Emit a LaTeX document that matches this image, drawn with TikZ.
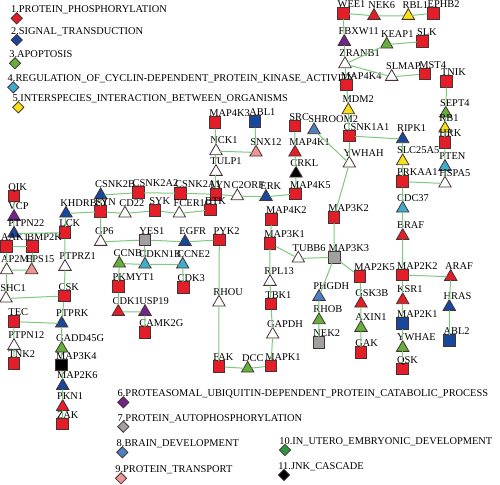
\documentclass[tikz,border=0pt]{standalone}
\usepackage{fontspec}
\setmainfont{Liberation Serif}
\usepackage{tikz}
\usetikzlibrary{shapes.geometric}
\definecolor{gored}{RGB}{228,30,40}
\definecolor{goblue}{RGB}{22,72,158}
\definecolor{gogreen}{RGB}{100,176,60}
\definecolor{gocyan}{RGB}{64,172,204}
\definecolor{goyellow}{RGB}{246,226,20}
\definecolor{gopurple}{RGB}{112,36,140}
\definecolor{gogray}{RGB}{160,160,160}
\definecolor{gosteel}{RGB}{76,128,196}
\definecolor{gopink}{RGB}{238,150,150}
\definecolor{godkgreen}{RGB}{44,150,64}
\definecolor{edgegreen}{RGB}{125,200,125}
\definecolor{rim}{RGB}{70,50,50}

\begin{document}
\begin{tikzpicture}[x=0.5pt,y=-0.5pt,font=\fontsize{5.2}{6}\selectfont,
  lbl/.style={anchor=base west,inner sep=0pt,xshift=-3pt},
  sq/.style={rectangle,draw=rim,line width=0.4pt,minimum size=5.9pt,inner sep=0pt,outer sep=0pt,fill=#1},
  tri/.style={regular polygon,regular polygon sides=3,draw=rim,line width=0.4pt,minimum size=7.2pt,inner sep=0pt,outer sep=0pt,yshift=-0.9pt,fill=#1},
  dia/.style={diamond,aspect=1,draw=rim,line width=0.4pt,minimum size=5.6pt,inner sep=0pt,outer sep=0pt,fill=#1},
  link/.style={draw=edgegreen,line width=0.5pt}]
\useasboundingbox (0,0) rectangle (500,485);

% legend
\node[dia=gored] (g1) at (16.7,18.3) [label={[lbl]90:1.PROTEIN\_PHOSPHORYLATION}] {};
\node[dia=goblue] (g2) at (16.7,40) [label={[lbl]90:2.SIGNAL\_TRANSDUCTION}] {};
\node[dia=gogreen] (g3) at (15,63.3) [label={[lbl]90:3.APOPTOSIS}] {};
\node[dia=gocyan] (g4) at (13.3,87.3) [label={[lbl]90:4.REGULATION\_OF\_CYCLIN-DEPENDENT\_PROTEIN\_KINASE\_ACTIVITY}] {};
\node[dia=goyellow] (g5) at (18.3,107.3) [label={[lbl]90:5.INTERSPECIES\_INTERACTION\_BETWEEN\_ORGANISMS}] {};
\node[dia=gopurple] (g6) at (123.3,402.3) [label={[lbl]90:6.PROTEASOMAL\_UBIQUITIN-DEPENDENT\_PROTEIN\_CATABOLIC\_PROCESS}] {};
\node[dia=gogray] (g7) at (123.3,426.7) [label={[lbl]90:7.PROTEIN\_AUTOPHOSPHORYLATION}] {};
\node[dia=gosteel] (g8) at (122.3,452.3) [label={[lbl]90:8.BRAIN\_DEVELOPMENT}] {};
\node[dia=gopink] (g9) at (121,478.3) [label={[lbl]90:9.PROTEIN\_TRANSPORT}] {};
\node[dia=godkgreen] (g10) at (285,450) [label={[lbl]90:10.IN\_UTERO\_EMBRYONIC\_DEVELOPMENT}] {};
\node[dia=black] (g11) at (284,475) [label={[lbl]90:11.JNK\_CASCADE}] {};

% top right cluster
\node[sq=gored] (wee1) at (343.3,13.3) [label={[lbl]90:WEE1}] {};
\node[tri=gored] (nek6) at (374,14) [label={[lbl]90:NEK6}] {};
\node[tri=goyellow] (rbl1) at (408.3,14) [label={[lbl]90:RBL1}] {};
\node[sq=gored] (ephb2) at (433.3,13.3) [label={[lbl]90:EPHB2}] {};
\node[tri=gopurple] (fbxw11) at (344.3,40) [label={[lbl]90:FBXW11}] {};
\node[tri=gogreen] (keap1) at (386.7,42.7) [label={[lbl]90:KEAP1}] {};
\node[sq=gored] (slk) at (422.7,41.7) [label={[lbl]90:SLK}] {};
\node[tri=white] (zranb1) at (345,62.3) [label={[lbl]90:ZRANB1}] {};
\node[tri=white] (slmap) at (391.7,75) [label={[lbl]90:SLMAP}] {};
\node[sq=gored] (mst4) at (425,74) [label={[lbl]90:MST4}] {};
\node[sq=gored] (map4k4) at (346.7,85) [label={[lbl]90:MAP4K4}] {};
\node[tri=goyellow] (mdm2) at (348.3,108.3) [label={[lbl]90:MDM2}] {};
\node[sq=gored] (tnik) at (446.7,81.7) [label={[lbl]90:TNIK}] {};
\node[tri=gogreen] (sept4) at (445.7,111.7) [label={[lbl]90:SEPT4}] {};
\node[tri=goyellow] (rb1) at (445,126.7) [label={[lbl]90:RB1}] {};
\node[sq=gored] (hrk) at (445,142.7) [label={[lbl]90:HRK}] {};
\node[tri=gocyan] (pten) at (445,165) [label={[lbl]90:PTEN}] {};
\node[tri=white] (hspa5) at (445,181.7) [label={[lbl]90:HSPA5}] {};
\node[tri=goblue] (ripk1) at (402.7,137.3) [label={[lbl]90:RIPK1}] {};
\node[tri=goyellow] (slc25a5) at (402.7,159.3) [label={[lbl]90:SLC25A5}] {};
\node[sq=gored] (prkaa1) at (402.7,181.7) [label={[lbl]90:PRKAA1}] {};
\node[tri=gocyan] (cdc37) at (402.7,206.7) [label={[lbl]90:CDC37}] {};
\node[tri=gored] (braf) at (402.7,234) [label={[lbl]90:BRAF}] {};
\node[sq=gored] (csnk1a1) at (349.3,136) [label={[lbl]90:CSNK1A1}] {};
\node[tri=white] (ywhah) at (349.3,161.7) [label={[lbl]90:YWHAH}] {};
\node[sq=gored] (map3k2) at (334,217.3) [label={[lbl]90:MAP3K2}] {};

% middle
\node[sq=gored] (map4k3) at (215,122.7) [label={[lbl]90:MAP4K3}] {};
\node[sq=goblue] (abl1) at (255,121.7) [label={[lbl]90:ABL1}] {};
\node[tri=white] (nck1) at (216,149.3) [label={[lbl]90:NCK1}] {};
\node[tri=gopink] (snx12) at (256,150.7) [label={[lbl]90:SNX12}] {};
\node[tri=white] (tulp1) at (216,170) [label={[lbl]90:TULP1}] {};
\node[sq=gored] (src) at (295,126) [label={[lbl]90:SRC}] {};
\node[tri=gosteel] (shroom2) at (314,128.3) [label={[lbl]90:SHROOM2}] {};
\node[tri=gored] (map4k1) at (295,150.7) [label={[lbl]90:MAP4K1}] {};
\node[tri=black] (crkl) at (296,171.7) [label={[lbl]90:CRKL}] {};
\node[sq=gored] (map4k5) at (295.7,194) [label={[lbl]90:MAP4K5}] {};
\node[tri=goblue] (erk) at (266,195) [label={[lbl]90:ERK}] {};
\node[tri=white] (c2orf) at (237.3,194.3) [label={[lbl]90:C2ORF}] {};
\node[sq=gored] (lyn) at (216,194.3) [label={[lbl]90:LYN}] {};
\node[sq=gored] (csnk2a1) at (180.7,193.3) [label={[lbl]90:CSNK2A1}] {};
\node[sq=gored] (csnk2a2) at (138.3,192.7) [label={[lbl]90:CSNK2A2}] {};
\node[tri=goblue] (csnk2b) at (100.7,193.3) [label={[lbl]90:CSNK2B}] {};
\node[tri=goblue] (khdrbs1) at (66,211.7) [label={[lbl]90:KHDRBS1}] {};
\node[sq=gored] (fyn) at (100.7,211.7) [label={[lbl]90:FYN}] {};
\node[tri=white] (cd22) at (125,211.7) [label={[lbl]90:CD22}] {};
\node[sq=gored] (syk) at (155,210.7) [label={[lbl]90:SYK}] {};
\node[tri=white] (fcer1g) at (179.3,211.7) [label={[lbl]90:FCER1G}] {};
\node[sq=gored] (btk) at (210.7,210) [label={[lbl]90:BTK}] {};
\node[tri=white] (gp6) at (100.7,240) [label={[lbl]90:GP6}] {};
\node[sq=gogray] (yes1) at (145,240) [label={[lbl]90:YES1}] {};
\node[tri=goblue] (egfr) at (185,240) [label={[lbl]90:EGFR}] {};
\node[sq=gored] (pyk2) at (219.3,240) [label={[lbl]90:PYK2}] {};
\node[tri=gogreen] (ccnb1) at (119.3,261.7) [label={[lbl]90:CCNB1}] {};
\node[tri=gocyan] (cdkn1b) at (145,262.7) [label={[lbl]90:CDKN1B}] {};
\node[tri=gocyan] (ccne2) at (182.7,262.7) [label={[lbl]90:CCNE2}] {};
\node[sq=gored] (cdk3) at (183.3,287.7) [label={[lbl]90:CDK3}] {};
\node[sq=gored] (pkmyt1) at (118.3,286.7) [label={[lbl]90:PKMYT1}] {};
\node[tri=gored] (cdk1) at (118.3,310) [label={[lbl]90:CDK1}] {};
\node[tri=gopurple] (usp19) at (145,310) [label={[lbl]90:USP19}] {};
\node[sq=gored] (camk2g) at (145,332.7) [label={[lbl]90:CAMK2G}] {};
\node[tri=white] (rhou) at (219,300.7) [label={[lbl]90:RHOU}] {};
\node[sq=gored] (fak) at (219,366.7) [label={[lbl]90:FAK}] {};
\node[tri=gogreen] (dcc) at (247.7,366.7) [label={[lbl]90:DCC}] {};
\node[sq=gored] (mapk1) at (271,366) [label={[lbl]90:MAPK1}] {};
\node[sq=gored] (map4k2) at (271.7,219.3) [label={[lbl]90:MAP4K2}] {};
\node[sq=gored] (map3k1) at (270,243.3) [label={[lbl]90:MAP3K1}] {};
\node[tri=white] (rpl13) at (270,280) [label={[lbl]90:RPL13}] {};
\node[sq=gored] (tbk1) at (271,304) [label={[lbl]90:TBK1}] {};
\node[tri=white] (gapdh) at (272.7,332.7) [label={[lbl]90:GAPDH}] {};
\node[tri=white] (tubb6) at (298.3,256.7) [label={[lbl]90:TUBB6}] {};
\node[sq=gogray] (map3k3) at (334.3,257.3) [label={[lbl]90:MAP3K3}] {};
\node[tri=gosteel] (phgdh) at (319,295) [label={[lbl]90:PHGDH}] {};
\node[tri=gogreen] (rhob) at (319,318.3) [label={[lbl]90:RHOB}] {};
\node[sq=gogray] (nek2) at (319,342.7) [label={[lbl]90:NEK2}] {};
\node[sq=gored] (map2k5) at (360,276.7) [label={[lbl]90:MAP2K5}] {};
\node[tri=gored] (gsk3b) at (361,301.7) [label={[lbl]90:GSK3B}] {};
\node[tri=gogreen] (axin1) at (361,326) [label={[lbl]90:AXIN1}] {};
\node[sq=gored] (gak) at (361,352.7) [label={[lbl]90:GAK}] {};
\node[sq=gored] (map2k2) at (402.7,275) [label={[lbl]90:MAP2K2}] {};
\node[tri=gored] (araf) at (450.7,275) [label={[lbl]90:ARAF}] {};
\node[tri=gored] (ksr1) at (402.7,298.3) [label={[lbl]90:KSR1}] {};
\node[sq=goblue] (map2k1) at (402.7,323.3) [label={[lbl]90:MAP2K1}] {};
\node[tri=gogreen] (ywhae) at (402.7,346) [label={[lbl]90:YWHAE}] {};
\node[sq=gored] (qsk) at (402.7,369) [label={[lbl]90:QSK}] {};
\node[tri=goblue] (hras) at (449.3,305) [label={[lbl]90:HRAS}] {};
\node[sq=goblue] (abl2) at (449.3,340.7) [label={[lbl]90:ABL2}] {};

% left
\node[sq=gored] (qik) at (14,196) [label={[lbl]90:QIK}] {};
\node[tri=gopurple] (vcp) at (14,215) [label={[lbl]90:VCP}] {};
\node[tri=goblue] (ptpn22) at (14,231.7) [label={[lbl]90:PTPN22}] {};
\node[sq=gored] (lck) at (65,232.7) [label={[lbl]90:LCK}] {};
\node[sq=gored] (aak1) at (6.7,246.7) [label={[lbl]90:AAK1}] {};
\node[sq=gored] (bmp2k) at (32.7,246.7) [label={[lbl]90:BMP2K}] {};
\node[tri=white] (ap2m1) at (6.7,268.3) [label={[lbl]90:AP2M1}] {};
\node[tri=gopink] (eps15) at (31.7,268.3) [label={[lbl]90:EPS15}] {};
\node[tri=white] (ptprz1) at (65,265) [label={[lbl]90:PTPRZ1}] {};
\node[tri=white] (shc1) at (6,296.7) [label={[lbl]90:SHC1}] {};
\node[sq=gored] (csk) at (64.3,296) [label={[lbl]90:CSK}] {};
\node[sq=gored] (tec) at (14,321.7) [label={[lbl]90:TEC}] {};
\node[tri=goblue] (ptprk) at (61.7,321.7) [label={[lbl]90:PTPRK}] {};
\node[tri=white] (ptpn12) at (14,344) [label={[lbl]90:PTPN12}] {};
\node[sq=gored] (tnk2) at (14,363.3) [label={[lbl]90:TNK2}] {};
\node[tri=gogreen] (gadd45g) at (61.7,346.7) [label={[lbl]90:GADD45G}] {};
\node[sq=black] (map3k4) at (61.7,365) [label={[lbl]90:MAP3K4}] {};
\node[tri=goblue] (map2k6) at (62.7,384) [label={[lbl]90:MAP2K6}] {};
\node[tri=gored] (pkn1) at (62.7,405) [label={[lbl]90:PKN1}] {};
\node[sq=gored] (zak) at (62.7,424) [label={[lbl]90:ZAK}] {};

% interactions
\draw[link] (wee1) -- (nek6) -- (rbl1) -- (ephb2);
\draw[link] (wee1) -- (fbxw11) -- (zranb1) -- (map4k4) -- (mdm2) -- (csnk1a1);
\draw[link] (zranb1) -- (keap1) -- (slk);
\draw[link] (zranb1) -- (slmap) -- (mst4);
\draw[link] (tnik) -- (sept4) -- (rb1) -- (hrk) -- (pten) -- (hspa5) -- (prkaa1);
\draw[link] (csnk1a1) -- (ripk1) -- (slc25a5) -- (prkaa1) -- (cdc37) -- (braf) -- (map2k2);
\draw[link] (csnk1a1) -- (ywhah) -- (map3k2) -- (map3k3);
\draw[link] (shroom2) -- (ywhah);
\draw[link] (map2k2) -- (araf) -- (hras) -- (abl2);
\draw[link] (map2k2) -- (ksr1) -- (map2k1) -- (ywhae) -- (qsk);
\draw[link] (map3k3) -- (map2k5) -- (gsk3b) -- (axin1) -- (gak);
\draw[link] (map3k3) -- (phgdh) -- (rhob) -- (nek2);
\draw[link] (map4k2) -- (map3k1) -- (tubb6) -- (map3k3);
\draw[link] (map3k1) -- (rpl13) -- (tbk1) -- (gapdh) -- (mapk1);
\draw[link] (pyk2) -- (rhou) -- (fak) -- (dcc) -- (mapk1);
\draw[link] (src) -- (map4k1) -- (crkl) -- (map4k5);
\draw[link] (map4k3) -- (nck1) -- (snx12) -- (abl1);
\draw[link] (nck1) -- (tulp1) -- (lyn);
\draw[link] (csnk2b) -- (csnk2a2) -- (csnk2a1) -- (lyn) -- (c2orf) -- (erk) -- (map4k5);
\draw[link] (csnk2b) -- (fyn);
\draw[link] (khdrbs1) -- (fyn) -- (cd22) -- (syk) -- (fcer1g) -- (btk);
\draw[link] (fyn) -- (gp6) -- (yes1) -- (egfr) -- (pyk2);
\draw[link] (yes1) -- (cdkn1b);
\draw[link] (ccnb1) -- (cdkn1b) -- (ccne2) -- (cdk3);
\draw[link] (ccnb1) -- (pkmyt1) -- (cdk1) -- (usp19) -- (camk2g);
\draw[link] (qik) -- (vcp) -- (ptpn22) -- (lck) -- (khdrbs1);
\draw[link] (lck) -- (ptprz1) -- (csk) -- (shc1) -- (ap2m1) -- (aak1) -- (bmp2k) -- (eps15) -- (ap2m1);
\draw[link] (csk) -- (ptprk) -- (tec) -- (ptpn12) -- (tnk2);
\draw[link] (ptprk) -- (gadd45g) -- (map3k4) -- (map2k6) -- (pkn1) -- (zak);
\end{tikzpicture}
\end{document}
